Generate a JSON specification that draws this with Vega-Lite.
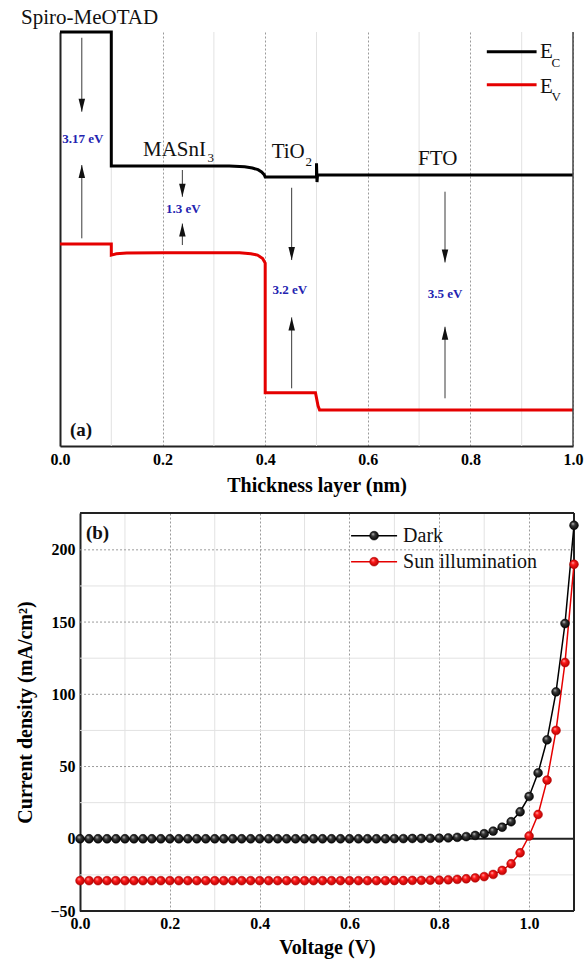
{
  "$schema": "https://vega.github.io/schema/vega-lite/v6.json",
  "background": "white",
  "padding": {"left": 15, "top": 7, "right": 5, "bottom": 5},
  "config": {
    "view": {"stroke": null},
    "font": "Liberation Serif",
    "axis": {
      "labelFont": "Liberation Serif", "labelFontWeight": "bold", "labelFontSize": 16, "labelColor": "#000",
      "titleFont": "Liberation Serif", "titleFontWeight": "bold", "titleFontSize": 20, "titleColor": "#000",
      "domainColor": "#222", "domainWidth": 2, "ticks": false,
      "gridColor": "#9a9a9a", "gridDash": [2, 2], "gridWidth": 1
    }
  },
  "spacing": 17,
  "vconcat": [
    {
      "width": 513,
      "height": 414,
      "layer": [
        {
          "data": {"values": [{"g": 0.1}, {"g": 0.3}, {"g": 0.5}, {"g": 0.7}, {"g": 0.9}]},
          "mark": {"type": "rule", "color": "#e2e2e2", "strokeWidth": 1},
          "encoding": {"x": {"field": "g", "type": "quantitative", "scale": {"domain": [0, 1], "nice": false, "zero": false},
            "axis": {"title": "Thickness layer (nm)", "values": [0, 0.2, 0.4, 0.6, 0.8, 1.0], "format": ".1f", "grid": true, "labelPadding": 5, "titlePadding": 8, "labelFlush": false}}}
        },
        {
          "data": {"name": "bands"},
          "transform": [{"filter": "datum.band === 'E_C'"}],
          "mark": {"type": "line", "strokeWidth": 3, "strokeJoin": "miter", "color": "#000000"},
          "encoding": {
            "x": {"field": "x", "type": "quantitative", "scale": {"domain": [0, 1], "nice": false, "zero": false},
              "axis": {"title": "Thickness layer (nm)", "values": [0, 0.2, 0.4, 0.6, 0.8, 1.0], "format": ".1f", "grid": true, "labelPadding": 5, "titlePadding": 8, "labelFlush": false}},
            "y": {"field": "E", "type": "quantitative", "scale": {"domain": [0, 6.18], "nice": false, "zero": false},
              "axis": {"title": null, "labels": false, "grid": false}},
            "order": {"field": "o", "type": "quantitative"}
          }
        },
        {
          "data": {"name": "bands"},
          "transform": [{"filter": "datum.band === 'E_V'"}],
          "mark": {"type": "line", "strokeWidth": 3, "strokeJoin": "miter", "color": "#e50000"},
          "encoding": {
            "x": {"field": "x", "type": "quantitative", "scale": {"domain": [0, 1], "nice": false, "zero": false},
              "axis": {"title": "Thickness layer (nm)", "values": [0, 0.2, 0.4, 0.6, 0.8, 1.0], "format": ".1f", "grid": true, "labelPadding": 5, "titlePadding": 8, "labelFlush": false}},
            "y": {"field": "E", "type": "quantitative", "scale": {"domain": [0, 6.18], "nice": false, "zero": false},
              "axis": {"title": null, "labels": false, "grid": false}},
            "order": {"field": "o", "type": "quantitative"}
          }
        },
        {
          "data": {"values": [{"b": 1}]},
          "mark": {"type": "rule", "color": "#444", "strokeWidth": 1.5},
          "encoding": {"x": {"field": "b", "type": "quantitative", "scale": {"domain": [0, 1], "nice": false, "zero": false},
            "axis": {"title": "Thickness layer (nm)", "values": [0, 0.2, 0.4, 0.6, 0.8, 1.0], "format": ".1f", "grid": true, "labelPadding": 5, "titlePadding": 8, "labelFlush": false}}}
        },
        {
          "data": {"values": [
            {"x": 0.0425, "E1": 6.094, "E2": 4.99, "dir": "down"},
            {"x": 0.0425, "E1": 3.1, "E2": 4.194, "dir": "up"},
            {"x": 0.2385, "E1": 4.12, "E2": 3.72, "dir": "down"},
            {"x": 0.2385, "E1": 3.0, "E2": 3.32, "dir": "up"},
            {"x": 0.4516, "E1": 3.855, "E2": 2.776, "dir": "down"},
            {"x": 0.4516, "E1": 0.861, "E2": 1.92, "dir": "up"},
            {"x": 0.7505, "E1": 3.796, "E2": 2.74, "dir": "down"},
            {"x": 0.7505, "E1": 0.712, "E2": 1.78, "dir": "up"}
          ]},
          "layer": [
            {
              "mark": {"type": "rule", "color": "#3a3a3a", "strokeWidth": 1},
              "encoding": {
                "x": {"field": "x", "type": "quantitative", "scale": {"domain": [0, 1], "nice": false, "zero": false},
                  "axis": {"title": "Thickness layer (nm)", "values": [0, 0.2, 0.4, 0.6, 0.8, 1.0], "format": ".1f", "grid": true, "labelPadding": 5, "titlePadding": 8, "labelFlush": false}},
                "y": {"field": "E1", "type": "quantitative", "scale": {"domain": [0, 6.18], "nice": false, "zero": false},
                  "axis": {"title": null, "labels": false, "grid": false}},
                "y2": {"field": "E2"}
              }
            },
            {
              "mark": {"type": "point", "filled": true, "size": 100, "color": "#111", "opacity": 1},
              "encoding": {
                "x": {"field": "x", "type": "quantitative", "scale": {"domain": [0, 1], "nice": false, "zero": false},
                  "axis": {"title": "Thickness layer (nm)", "values": [0, 0.2, 0.4, 0.6, 0.8, 1.0], "format": ".1f", "grid": true, "labelPadding": 5, "titlePadding": 8, "labelFlush": false}},
                "y": {"field": "E2", "type": "quantitative", "scale": {"domain": [0, 6.18], "nice": false, "zero": false},
                  "axis": {"title": null, "labels": false, "grid": false}},
                "shape": {"field": "dir", "type": "nominal", "scale": {"domain": ["down", "up"], "range": ["M-0.65,-2.6L0.65,-2.6L0,0Z", "M-0.65,2.6L0.65,2.6L0,0Z"]}, "legend": null}
              }
            }
          ]
        },
        {
          "data": {"values": [
            {"x": 0.0445, "E": 4.578, "t": "3.17 eV"},
            {"x": 0.2405, "E": 3.533, "t": "1.3 eV"},
            {"x": 0.448, "E": 2.328, "t": "3.2 eV"},
            {"x": 0.7505, "E": 2.264, "t": "3.5 eV"}
          ]},
          "mark": {"type": "text", "font": "Liberation Serif", "fontWeight": "bold", "fontSize": 13, "color": "#2323b0", "align": "center", "baseline": "middle"},
          "encoding": {
            "x": {"field": "x", "type": "quantitative", "scale": {"domain": [0, 1], "nice": false, "zero": false},
              "axis": {"title": "Thickness layer (nm)", "values": [0, 0.2, 0.4, 0.6, 0.8, 1.0], "format": ".1f", "grid": true, "labelPadding": 5, "titlePadding": 8, "labelFlush": false}},
            "y": {"field": "E", "type": "quantitative", "scale": {"domain": [0, 6.18], "nice": false, "zero": false},
              "axis": {"title": null, "labels": false, "grid": false}},
            "text": {"field": "t"}
          }
        },
        {
          "data": {"values": [
            {"x": -0.076, "E": 6.384, "t": "Spiro-MeOTAD"},
            {"x": 0.1618, "E": 4.42, "t": "MASnI"},
            {"x": 0.4126, "E": 4.39, "t": "TiO"},
            {"x": 0.698, "E": 4.29, "t": "FTO"},
            {"x": 0.9357, "E": 5.885, "t": "E"},
            {"x": 0.9357, "E": 5.363, "t": "E"}
          ]},
          "mark": {"type": "text", "font": "Liberation Serif", "fontSize": 21, "color": "#111", "align": "left", "baseline": "middle"},
          "encoding": {
            "x": {"field": "x", "type": "quantitative", "scale": {"domain": [0, 1], "nice": false, "zero": false},
              "axis": {"title": "Thickness layer (nm)", "values": [0, 0.2, 0.4, 0.6, 0.8, 1.0], "format": ".1f", "grid": true, "labelPadding": 5, "titlePadding": 8, "labelFlush": false}},
            "y": {"field": "E", "type": "quantitative", "scale": {"domain": [0, 6.18], "nice": false, "zero": false},
              "axis": {"title": null, "labels": false, "grid": false}},
            "text": {"field": "t"}
          }
        },
        {
          "data": {"values": [
            {"x": 0.2875, "E": 4.3, "t": "3"},
            {"x": 0.4785, "E": 4.24, "t": "2"},
            {"x": 0.958, "E": 5.716, "t": "C"},
            {"x": 0.958, "E": 5.209, "t": "V"}
          ]},
          "mark": {"type": "text", "font": "Liberation Serif", "fontSize": 13, "color": "#111", "align": "left", "baseline": "middle"},
          "encoding": {
            "x": {"field": "x", "type": "quantitative", "scale": {"domain": [0, 1], "nice": false, "zero": false},
              "axis": {"title": "Thickness layer (nm)", "values": [0, 0.2, 0.4, 0.6, 0.8, 1.0], "format": ".1f", "grid": true, "labelPadding": 5, "titlePadding": 8, "labelFlush": false}},
            "y": {"field": "E", "type": "quantitative", "scale": {"domain": [0, 6.18], "nice": false, "zero": false},
              "axis": {"title": null, "labels": false, "grid": false}},
            "text": {"field": "t"}
          }
        },
        {
          "data": {"values": [{"x": 0.832, "x2": 0.929, "E": 5.885}]},
          "mark": {"type": "rule", "strokeWidth": 3, "color": "#000000"},
          "encoding": {
            "x": {"field": "x", "type": "quantitative", "scale": {"domain": [0, 1], "nice": false, "zero": false},
              "axis": {"title": "Thickness layer (nm)", "values": [0, 0.2, 0.4, 0.6, 0.8, 1.0], "format": ".1f", "grid": true, "labelPadding": 5, "titlePadding": 8, "labelFlush": false}},
            "x2": {"field": "x2"},
            "y": {"field": "E", "type": "quantitative", "scale": {"domain": [0, 6.18], "nice": false, "zero": false},
              "axis": {"title": null, "labels": false, "grid": false}}
          }
        },
        {
          "data": {"values": [{"x": 0.832, "x2": 0.929, "E": 5.393}]},
          "mark": {"type": "rule", "strokeWidth": 3, "color": "#e50000"},
          "encoding": {
            "x": {"field": "x", "type": "quantitative", "scale": {"domain": [0, 1], "nice": false, "zero": false},
              "axis": {"title": "Thickness layer (nm)", "values": [0, 0.2, 0.4, 0.6, 0.8, 1.0], "format": ".1f", "grid": true, "labelPadding": 5, "titlePadding": 8, "labelFlush": false}},
            "x2": {"field": "x2"},
            "y": {"field": "E", "type": "quantitative", "scale": {"domain": [0, 6.18], "nice": false, "zero": false},
              "axis": {"title": null, "labels": false, "grid": false}}
          }
        },
        {
          "data": {"values": [{"x": 0.0195, "E": 0.24, "t": "(a)"}]},
          "mark": {"type": "text", "font": "Liberation Serif", "fontWeight": "bold", "fontSize": 19, "color": "#111", "align": "left", "baseline": "middle"},
          "encoding": {
            "x": {"field": "x", "type": "quantitative", "scale": {"domain": [0, 1], "nice": false, "zero": false},
              "axis": {"title": "Thickness layer (nm)", "values": [0, 0.2, 0.4, 0.6, 0.8, 1.0], "format": ".1f", "grid": true, "labelPadding": 5, "titlePadding": 8, "labelFlush": false}},
            "y": {"field": "E", "type": "quantitative", "scale": {"domain": [0, 6.18], "nice": false, "zero": false},
              "axis": {"title": null, "labels": false, "grid": false}},
            "text": {"field": "t"}
          }
        }
      ]
    },
    {
      "width": 514,
      "height": 398,
      "layer": [
        {
          "data": {"values": [{"g": 0.1}, {"g": 0.3}, {"g": 0.5}, {"g": 0.7}, {"g": 0.9}]},
          "mark": {"type": "rule", "color": "#e2e2e2", "strokeWidth": 1},
          "encoding": {"x": {"field": "g", "type": "quantitative", "scale": {"domain": [-0.04464, 1.1], "nice": false, "zero": false},
            "axis": {"title": "Voltage (V)", "titleX": 267, "values": [0, 0.2, 0.4, 0.6, 0.8, 1.0], "format": ".1f", "grid": true, "domain": false, "labelPadding": 4, "titlePadding": 6, "labelFlush": false}}}
        },
        {
          "data": {"values": [{"h": -25, "a": 0, "b": 1.1}, {"h": 25, "a": 0, "b": 1.1}, {"h": 75, "a": 0, "b": 1.1}, {"h": 125, "a": 0, "b": 1.1}, {"h": 175, "a": 0, "b": 1.1}]},
          "mark": {"type": "rule", "color": "#e2e2e2", "strokeWidth": 1},
          "encoding": {
            "x": {"field": "a", "type": "quantitative", "scale": {"domain": [-0.04464, 1.1], "nice": false, "zero": false},
              "axis": {"title": "Voltage (V)", "titleX": 267, "values": [0, 0.2, 0.4, 0.6, 0.8, 1.0], "format": ".1f", "grid": true, "domain": false, "labelPadding": 4, "titlePadding": 6, "labelFlush": false}},
            "x2": {"field": "b"},
            "y": {"field": "h", "type": "quantitative", "scale": {"domain": [-50, 225.5], "nice": false, "zero": false},
              "axis": {"title": "Current density (mA/cm²)", "offset": -20, "values": [-50, 0, 50, 100, 150, 200], "format": "d", "grid": false, "labelPadding": 5, "titlePadding": 14, "labelFlush": false}}
          }
        },
        {
          "data": {"values": [{"h": 50, "a": 0, "b": 1.1}, {"h": 100, "a": 0, "b": 1.1}, {"h": 150, "a": 0, "b": 1.1}, {"h": 200, "a": 0, "b": 1.1}]},
          "mark": {"type": "rule", "color": "#9a9a9a", "strokeWidth": 1, "strokeDash": [2, 2]},
          "encoding": {
            "x": {"field": "a", "type": "quantitative", "scale": {"domain": [-0.04464, 1.1], "nice": false, "zero": false},
              "axis": {"title": "Voltage (V)", "titleX": 267, "values": [0, 0.2, 0.4, 0.6, 0.8, 1.0], "format": ".1f", "grid": true, "domain": false, "labelPadding": 4, "titlePadding": 6, "labelFlush": false}},
            "x2": {"field": "b"},
            "y": {"field": "h", "type": "quantitative", "scale": {"domain": [-50, 225.5], "nice": false, "zero": false},
              "axis": {"title": "Current density (mA/cm²)", "offset": -20, "values": [-50, 0, 50, 100, 150, 200], "format": "d", "grid": false, "labelPadding": 5, "titlePadding": 14, "labelFlush": false}}
          }
        },
        {
          "data": {"values": [{"h": 0, "a": 0, "b": 1.1}, {"h": -50, "a": 0, "b": 1.1}, {"h": 225.5, "a": 0, "b": 1.1}]},
          "mark": {"type": "rule", "color": "#222", "strokeWidth": 1.8},
          "encoding": {
            "x": {"field": "a", "type": "quantitative", "scale": {"domain": [-0.04464, 1.1], "nice": false, "zero": false},
              "axis": {"title": "Voltage (V)", "titleX": 267, "values": [0, 0.2, 0.4, 0.6, 0.8, 1.0], "format": ".1f", "grid": true, "domain": false, "labelPadding": 4, "titlePadding": 6, "labelFlush": false}},
            "x2": {"field": "b"},
            "y": {"field": "h", "type": "quantitative", "scale": {"domain": [-50, 225.5], "nice": false, "zero": false},
              "axis": {"title": "Current density (mA/cm²)", "offset": -20, "values": [-50, 0, 50, 100, 150, 200], "format": "d", "grid": false, "labelPadding": 5, "titlePadding": 14, "labelFlush": false}}
          }
        },
        {
          "data": {"values": [{"b": 1.1}]},
          "mark": {"type": "rule", "color": "#222", "strokeWidth": 2},
          "encoding": {"x": {"field": "b", "type": "quantitative", "scale": {"domain": [-0.04464, 1.1], "nice": false, "zero": false},
            "axis": {"title": "Voltage (V)", "titleX": 267, "values": [0, 0.2, 0.4, 0.6, 0.8, 1.0], "format": ".1f", "grid": true, "domain": false, "labelPadding": 4, "titlePadding": 6, "labelFlush": false}}}
        },
        {
          "data": {"name": "jv"},
          "mark": {"type": "line", "strokeWidth": 1.5},
          "encoding": {
            "x": {"field": "V", "type": "quantitative", "scale": {"domain": [-0.04464, 1.1], "nice": false, "zero": false},
              "axis": {"title": "Voltage (V)", "titleX": 267, "values": [0, 0.2, 0.4, 0.6, 0.8, 1.0], "format": ".1f", "grid": true, "domain": false, "labelPadding": 4, "titlePadding": 6, "labelFlush": false}},
            "y": {"field": "J", "type": "quantitative", "scale": {"domain": [-50, 225.5], "nice": false, "zero": false},
              "axis": {"title": "Current density (mA/cm²)", "offset": -20, "values": [-50, 0, 50, 100, 150, 200], "format": "d", "grid": false, "labelPadding": 5, "titlePadding": 14, "labelFlush": false}},
            "color": {"field": "s", "type": "nominal", "scale": {"domain": ["Dark", "Sun illumination"], "range": ["#000000", "#e50000"]}, "legend": null}
          }
        },
        {
          "data": {"name": "leg"},
          "mark": {"type": "rule", "strokeWidth": 1.5},
          "encoding": {
            "x": {"field": "a", "type": "quantitative", "scale": {"domain": [-0.04464, 1.1], "nice": false, "zero": false},
              "axis": {"title": "Voltage (V)", "titleX": 267, "values": [0, 0.2, 0.4, 0.6, 0.8, 1.0], "format": ".1f", "grid": true, "domain": false, "labelPadding": 4, "titlePadding": 6, "labelFlush": false}},
            "x2": {"field": "b"},
            "y": {"field": "J", "type": "quantitative", "scale": {"domain": [-50, 225.5], "nice": false, "zero": false},
              "axis": {"title": "Current density (mA/cm²)", "offset": -20, "values": [-50, 0, 50, 100, 150, 200], "format": "d", "grid": false, "labelPadding": 5, "titlePadding": 14, "labelFlush": false}},
            "color": {"field": "s", "type": "nominal", "scale": {"domain": ["Dark", "Sun illumination"], "range": ["#000000", "#e50000"]}, "legend": null}
          }
        },
        {
          "data": {"name": "leg"},
          "mark": {"type": "text", "font": "Liberation Serif", "fontSize": 20, "color": "#111", "align": "left", "baseline": "middle"},
          "encoding": {
            "x": {"field": "tx", "type": "quantitative", "scale": {"domain": [-0.04464, 1.1], "nice": false, "zero": false},
              "axis": {"title": "Voltage (V)", "titleX": 267, "values": [0, 0.2, 0.4, 0.6, 0.8, 1.0], "format": ".1f", "grid": true, "domain": false, "labelPadding": 4, "titlePadding": 6, "labelFlush": false}},
            "y": {"field": "J", "type": "quantitative", "scale": {"domain": [-50, 225.5], "nice": false, "zero": false},
              "axis": {"title": "Current density (mA/cm²)", "offset": -20, "values": [-50, 0, 50, 100, 150, 200], "format": "d", "grid": false, "labelPadding": 5, "titlePadding": 14, "labelFlush": false}},
            "text": {"field": "s"}
          }
        },
        {
          "data": {"name": "jvleg"},
          "transform": [{"filter": "datum.s === 'Sun illumination'"}],
          "mark": {"type": "point", "filled": true, "size": 78, "opacity": 1, "stroke": "#b00000", "strokeWidth": 0.5,
            "fill": {"gradient": "radial", "x1": 0.35, "y1": 0.3, "r1": 0, "x2": 0.5, "y2": 0.5, "r2": 0.55,
              "stops": [{"offset": 0, "color": "#ffc0c0"}, {"offset": 0.35, "color": "#ff1a1a"}, {"offset": 1, "color": "#b00000"}]}},
          "encoding": {
            "x": {"field": "V", "type": "quantitative", "scale": {"domain": [-0.04464, 1.1], "nice": false, "zero": false},
              "axis": {"title": "Voltage (V)", "titleX": 267, "values": [0, 0.2, 0.4, 0.6, 0.8, 1.0], "format": ".1f", "grid": true, "domain": false, "labelPadding": 4, "titlePadding": 6, "labelFlush": false}},
            "y": {"field": "J", "type": "quantitative", "scale": {"domain": [-50, 225.5], "nice": false, "zero": false},
              "axis": {"title": "Current density (mA/cm²)", "offset": -20, "values": [-50, 0, 50, 100, 150, 200], "format": "d", "grid": false, "labelPadding": 5, "titlePadding": 14, "labelFlush": false}}
          }
        },
        {
          "data": {"name": "jvleg"},
          "transform": [{"filter": "datum.s === 'Dark'"}],
          "mark": {"type": "point", "filled": true, "size": 78, "opacity": 1, "stroke": "#000", "strokeWidth": 0.5,
            "fill": {"gradient": "radial", "x1": 0.35, "y1": 0.3, "r1": 0, "x2": 0.5, "y2": 0.5, "r2": 0.55,
              "stops": [{"offset": 0, "color": "#d8d8d8"}, {"offset": 0.35, "color": "#3a3a3a"}, {"offset": 1, "color": "#000000"}]}},
          "encoding": {
            "x": {"field": "V", "type": "quantitative", "scale": {"domain": [-0.04464, 1.1], "nice": false, "zero": false},
              "axis": {"title": "Voltage (V)", "titleX": 267, "values": [0, 0.2, 0.4, 0.6, 0.8, 1.0], "format": ".1f", "grid": true, "domain": false, "labelPadding": 4, "titlePadding": 6, "labelFlush": false}},
            "y": {"field": "J", "type": "quantitative", "scale": {"domain": [-50, 225.5], "nice": false, "zero": false},
              "axis": {"title": "Current density (mA/cm²)", "offset": -20, "values": [-50, 0, 50, 100, 150, 200], "format": "d", "grid": false, "labelPadding": 5, "titlePadding": 14, "labelFlush": false}}
          }
        },
        {
          "data": {"values": [{"V": 0.013, "J": 211.6, "t": "(b)"}]},
          "mark": {"type": "text", "font": "Liberation Serif", "fontWeight": "bold", "fontSize": 19, "color": "#111", "align": "left", "baseline": "middle"},
          "encoding": {
            "x": {"field": "V", "type": "quantitative", "scale": {"domain": [-0.04464, 1.1], "nice": false, "zero": false},
              "axis": {"title": "Voltage (V)", "titleX": 267, "values": [0, 0.2, 0.4, 0.6, 0.8, 1.0], "format": ".1f", "grid": true, "domain": false, "labelPadding": 4, "titlePadding": 6, "labelFlush": false}},
            "y": {"field": "J", "type": "quantitative", "scale": {"domain": [-50, 225.5], "nice": false, "zero": false},
              "axis": {"title": "Current density (mA/cm²)", "offset": -20, "values": [-50, 0, 50, 100, 150, 200], "format": "d", "grid": false, "labelPadding": 5, "titlePadding": 14, "labelFlush": false}},
            "text": {"field": "t"}
          }
        }
      ]
    }
  ],
  "datasets": {
    "leg": [
      {"a": 0.6036, "b": 0.706, "tx": 0.7194, "J": 209.8, "s": "Dark"},
      {"a": 0.6036, "b": 0.706, "tx": 0.7194, "J": 191.8, "s": "Sun illumination"}
    ],
    "bands": [
      {"x": 0, "E": 6.18, "band": "E_C", "o": 1},
      {"x": 0.1, "E": 6.18, "band": "E_C", "o": 2},
      {"x": 0.1, "E": 4.18, "band": "E_C", "o": 3},
      {"x": 0.33, "E": 4.18, "band": "E_C", "o": 4},
      {"x": 0.36, "E": 4.17, "band": "E_C", "o": 5},
      {"x": 0.375, "E": 4.15, "band": "E_C", "o": 6},
      {"x": 0.386, "E": 4.125, "band": "E_C", "o": 7},
      {"x": 0.393, "E": 4.09, "band": "E_C", "o": 8},
      {"x": 0.398, "E": 4.05, "band": "E_C", "o": 9},
      {"x": 0.4, "E": 4.015, "band": "E_C", "o": 10},
      {"x": 0.5, "E": 4.015, "band": "E_C", "o": 11},
      {"x": 0.5, "E": 4.22, "band": "E_C", "o": 12},
      {"x": 0.501, "E": 3.94, "band": "E_C", "o": 13},
      {"x": 0.502, "E": 4.045, "band": "E_C", "o": 14},
      {"x": 1.0, "E": 4.045, "band": "E_C", "o": 15},
      {"x": 0, "E": 3.015, "band": "E_V", "o": 1},
      {"x": 0.1, "E": 3.015, "band": "E_V", "o": 2},
      {"x": 0.1, "E": 2.85, "band": "E_V", "o": 3},
      {"x": 0.11, "E": 2.87, "band": "E_V", "o": 4},
      {"x": 0.13, "E": 2.88, "band": "E_V", "o": 5},
      {"x": 0.2, "E": 2.885, "band": "E_V", "o": 6},
      {"x": 0.35, "E": 2.885, "band": "E_V", "o": 7},
      {"x": 0.372, "E": 2.87, "band": "E_V", "o": 8},
      {"x": 0.385, "E": 2.85, "band": "E_V", "o": 9},
      {"x": 0.395, "E": 2.8, "band": "E_V", "o": 10},
      {"x": 0.4, "E": 2.73, "band": "E_V", "o": 11},
      {"x": 0.4, "E": 0.796, "band": "E_V", "o": 12},
      {"x": 0.498, "E": 0.796, "band": "E_V", "o": 13},
      {"x": 0.503, "E": 0.6, "band": "E_V", "o": 14},
      {"x": 0.506, "E": 0.537, "band": "E_V", "o": 15},
      {"x": 1.0, "E": 0.537, "band": "E_V", "o": 16}
    ],
    "jvleg": [
      {"V": 0.00, "J": 0, "s": "Dark"}, {"V": 0.02, "J": 0, "s": "Dark"}, {"V": 0.04, "J": 0, "s": "Dark"}, {"V": 0.06, "J": 0, "s": "Dark"},
      {"V": 0.08, "J": 0, "s": "Dark"}, {"V": 0.10, "J": 0, "s": "Dark"}, {"V": 0.12, "J": 0, "s": "Dark"}, {"V": 0.14, "J": 0, "s": "Dark"},
      {"V": 0.16, "J": 0, "s": "Dark"}, {"V": 0.18, "J": 0, "s": "Dark"}, {"V": 0.20, "J": 0, "s": "Dark"}, {"V": 0.22, "J": 0, "s": "Dark"},
      {"V": 0.24, "J": 0, "s": "Dark"}, {"V": 0.26, "J": 0, "s": "Dark"}, {"V": 0.28, "J": 0, "s": "Dark"}, {"V": 0.30, "J": 0, "s": "Dark"},
      {"V": 0.32, "J": 0, "s": "Dark"}, {"V": 0.34, "J": 0, "s": "Dark"}, {"V": 0.36, "J": 0, "s": "Dark"}, {"V": 0.38, "J": 0, "s": "Dark"},
      {"V": 0.40, "J": 0, "s": "Dark"}, {"V": 0.42, "J": 0, "s": "Dark"}, {"V": 0.44, "J": 0, "s": "Dark"}, {"V": 0.46, "J": 0, "s": "Dark"},
      {"V": 0.48, "J": 0, "s": "Dark"}, {"V": 0.50, "J": 0, "s": "Dark"}, {"V": 0.52, "J": 0, "s": "Dark"}, {"V": 0.54, "J": 0, "s": "Dark"},
      {"V": 0.56, "J": 0, "s": "Dark"}, {"V": 0.58, "J": 0, "s": "Dark"}, {"V": 0.60, "J": 0, "s": "Dark"}, {"V": 0.62, "J": 0, "s": "Dark"},
      {"V": 0.64, "J": 0, "s": "Dark"}, {"V": 0.66, "J": 0, "s": "Dark"}, {"V": 0.68, "J": 0, "s": "Dark"}, {"V": 0.70, "J": 0.1, "s": "Dark"},
      {"V": 0.72, "J": 0.1, "s": "Dark"}, {"V": 0.74, "J": 0.2, "s": "Dark"}, {"V": 0.76, "J": 0.2, "s": "Dark"}, {"V": 0.78, "J": 0.3, "s": "Dark"},
      {"V": 0.80, "J": 0.4, "s": "Dark"}, {"V": 0.82, "J": 0.6, "s": "Dark"}, {"V": 0.84, "J": 1.0, "s": "Dark"}, {"V": 0.86, "J": 1.5, "s": "Dark"},
      {"V": 0.88, "J": 2.3, "s": "Dark"}, {"V": 0.90, "J": 3.5, "s": "Dark"}, {"V": 0.92, "J": 5.3, "s": "Dark"}, {"V": 0.94, "J": 8.0, "s": "Dark"},
      {"V": 0.96, "J": 11.8, "s": "Dark"}, {"V": 0.98, "J": 18.7, "s": "Dark"}, {"V": 1.00, "J": 29.3, "s": "Dark"}, {"V": 1.02, "J": 45.6, "s": "Dark"},
      {"V": 1.04, "J": 68.5, "s": "Dark"}, {"V": 1.06, "J": 101.7, "s": "Dark"}, {"V": 1.08, "J": 149, "s": "Dark"}, {"V": 1.10, "J": 217, "s": "Dark"},
      {"V": 0.6548, "J": 209.8, "s": "Dark"},
      {"V": 0.00, "J": -29, "s": "Sun illumination"}, {"V": 0.02, "J": -29, "s": "Sun illumination"}, {"V": 0.04, "J": -29, "s": "Sun illumination"}, {"V": 0.06, "J": -29, "s": "Sun illumination"},
      {"V": 0.08, "J": -29, "s": "Sun illumination"}, {"V": 0.10, "J": -29, "s": "Sun illumination"}, {"V": 0.12, "J": -29, "s": "Sun illumination"}, {"V": 0.14, "J": -29, "s": "Sun illumination"},
      {"V": 0.16, "J": -29, "s": "Sun illumination"}, {"V": 0.18, "J": -29, "s": "Sun illumination"}, {"V": 0.20, "J": -29, "s": "Sun illumination"}, {"V": 0.22, "J": -29, "s": "Sun illumination"},
      {"V": 0.24, "J": -29, "s": "Sun illumination"}, {"V": 0.26, "J": -29, "s": "Sun illumination"}, {"V": 0.28, "J": -29, "s": "Sun illumination"}, {"V": 0.30, "J": -29, "s": "Sun illumination"},
      {"V": 0.32, "J": -29, "s": "Sun illumination"}, {"V": 0.34, "J": -29, "s": "Sun illumination"}, {"V": 0.36, "J": -29, "s": "Sun illumination"}, {"V": 0.38, "J": -29, "s": "Sun illumination"},
      {"V": 0.40, "J": -29, "s": "Sun illumination"}, {"V": 0.42, "J": -29, "s": "Sun illumination"}, {"V": 0.44, "J": -29, "s": "Sun illumination"}, {"V": 0.46, "J": -29, "s": "Sun illumination"},
      {"V": 0.48, "J": -29, "s": "Sun illumination"}, {"V": 0.50, "J": -29, "s": "Sun illumination"}, {"V": 0.52, "J": -29, "s": "Sun illumination"}, {"V": 0.54, "J": -29, "s": "Sun illumination"},
      {"V": 0.56, "J": -29, "s": "Sun illumination"}, {"V": 0.58, "J": -29, "s": "Sun illumination"}, {"V": 0.60, "J": -29, "s": "Sun illumination"}, {"V": 0.62, "J": -29, "s": "Sun illumination"},
      {"V": 0.64, "J": -29, "s": "Sun illumination"}, {"V": 0.66, "J": -29, "s": "Sun illumination"}, {"V": 0.68, "J": -29, "s": "Sun illumination"}, {"V": 0.70, "J": -28.9, "s": "Sun illumination"},
      {"V": 0.72, "J": -28.9, "s": "Sun illumination"}, {"V": 0.74, "J": -28.8, "s": "Sun illumination"}, {"V": 0.76, "J": -28.8, "s": "Sun illumination"}, {"V": 0.78, "J": -28.7, "s": "Sun illumination"},
      {"V": 0.80, "J": -28.6, "s": "Sun illumination"}, {"V": 0.82, "J": -28.4, "s": "Sun illumination"}, {"V": 0.84, "J": -28.1, "s": "Sun illumination"}, {"V": 0.86, "J": -27.7, "s": "Sun illumination"},
      {"V": 0.88, "J": -27.1, "s": "Sun illumination"}, {"V": 0.90, "J": -26.2, "s": "Sun illumination"}, {"V": 0.92, "J": -24.7, "s": "Sun illumination"}, {"V": 0.94, "J": -21.9, "s": "Sun illumination"},
      {"V": 0.96, "J": -17.3, "s": "Sun illumination"}, {"V": 0.98, "J": -9.7, "s": "Sun illumination"}, {"V": 1.00, "J": 1.9, "s": "Sun illumination"}, {"V": 1.02, "J": 16.8, "s": "Sun illumination"},
      {"V": 1.04, "J": 40.6, "s": "Sun illumination"}, {"V": 1.06, "J": 75, "s": "Sun illumination"}, {"V": 1.08, "J": 122, "s": "Sun illumination"}, {"V": 1.10, "J": 190, "s": "Sun illumination"},
      {"V": 0.6548, "J": 191.8, "s": "Sun illumination"}
    ],
    "jv": [
      {"V": 0.00, "J": 0, "s": "Dark"}, {"V": 0.02, "J": 0, "s": "Dark"}, {"V": 0.04, "J": 0, "s": "Dark"}, {"V": 0.06, "J": 0, "s": "Dark"},
      {"V": 0.08, "J": 0, "s": "Dark"}, {"V": 0.10, "J": 0, "s": "Dark"}, {"V": 0.12, "J": 0, "s": "Dark"}, {"V": 0.14, "J": 0, "s": "Dark"},
      {"V": 0.16, "J": 0, "s": "Dark"}, {"V": 0.18, "J": 0, "s": "Dark"}, {"V": 0.20, "J": 0, "s": "Dark"}, {"V": 0.22, "J": 0, "s": "Dark"},
      {"V": 0.24, "J": 0, "s": "Dark"}, {"V": 0.26, "J": 0, "s": "Dark"}, {"V": 0.28, "J": 0, "s": "Dark"}, {"V": 0.30, "J": 0, "s": "Dark"},
      {"V": 0.32, "J": 0, "s": "Dark"}, {"V": 0.34, "J": 0, "s": "Dark"}, {"V": 0.36, "J": 0, "s": "Dark"}, {"V": 0.38, "J": 0, "s": "Dark"},
      {"V": 0.40, "J": 0, "s": "Dark"}, {"V": 0.42, "J": 0, "s": "Dark"}, {"V": 0.44, "J": 0, "s": "Dark"}, {"V": 0.46, "J": 0, "s": "Dark"},
      {"V": 0.48, "J": 0, "s": "Dark"}, {"V": 0.50, "J": 0, "s": "Dark"}, {"V": 0.52, "J": 0, "s": "Dark"}, {"V": 0.54, "J": 0, "s": "Dark"},
      {"V": 0.56, "J": 0, "s": "Dark"}, {"V": 0.58, "J": 0, "s": "Dark"}, {"V": 0.60, "J": 0, "s": "Dark"}, {"V": 0.62, "J": 0, "s": "Dark"},
      {"V": 0.64, "J": 0, "s": "Dark"}, {"V": 0.66, "J": 0, "s": "Dark"}, {"V": 0.68, "J": 0, "s": "Dark"}, {"V": 0.70, "J": 0.1, "s": "Dark"},
      {"V": 0.72, "J": 0.1, "s": "Dark"}, {"V": 0.74, "J": 0.2, "s": "Dark"}, {"V": 0.76, "J": 0.2, "s": "Dark"}, {"V": 0.78, "J": 0.3, "s": "Dark"},
      {"V": 0.80, "J": 0.4, "s": "Dark"}, {"V": 0.82, "J": 0.6, "s": "Dark"}, {"V": 0.84, "J": 1.0, "s": "Dark"}, {"V": 0.86, "J": 1.5, "s": "Dark"},
      {"V": 0.88, "J": 2.3, "s": "Dark"}, {"V": 0.90, "J": 3.5, "s": "Dark"}, {"V": 0.92, "J": 5.3, "s": "Dark"}, {"V": 0.94, "J": 8.0, "s": "Dark"},
      {"V": 0.96, "J": 11.8, "s": "Dark"}, {"V": 0.98, "J": 18.7, "s": "Dark"}, {"V": 1.00, "J": 29.3, "s": "Dark"}, {"V": 1.02, "J": 45.6, "s": "Dark"},
      {"V": 1.04, "J": 68.5, "s": "Dark"}, {"V": 1.06, "J": 101.7, "s": "Dark"}, {"V": 1.08, "J": 149, "s": "Dark"}, {"V": 1.10, "J": 217, "s": "Dark"},
      {"V": 0.00, "J": -29, "s": "Sun illumination"}, {"V": 0.02, "J": -29, "s": "Sun illumination"}, {"V": 0.04, "J": -29, "s": "Sun illumination"}, {"V": 0.06, "J": -29, "s": "Sun illumination"},
      {"V": 0.08, "J": -29, "s": "Sun illumination"}, {"V": 0.10, "J": -29, "s": "Sun illumination"}, {"V": 0.12, "J": -29, "s": "Sun illumination"}, {"V": 0.14, "J": -29, "s": "Sun illumination"},
      {"V": 0.16, "J": -29, "s": "Sun illumination"}, {"V": 0.18, "J": -29, "s": "Sun illumination"}, {"V": 0.20, "J": -29, "s": "Sun illumination"}, {"V": 0.22, "J": -29, "s": "Sun illumination"},
      {"V": 0.24, "J": -29, "s": "Sun illumination"}, {"V": 0.26, "J": -29, "s": "Sun illumination"}, {"V": 0.28, "J": -29, "s": "Sun illumination"}, {"V": 0.30, "J": -29, "s": "Sun illumination"},
      {"V": 0.32, "J": -29, "s": "Sun illumination"}, {"V": 0.34, "J": -29, "s": "Sun illumination"}, {"V": 0.36, "J": -29, "s": "Sun illumination"}, {"V": 0.38, "J": -29, "s": "Sun illumination"},
      {"V": 0.40, "J": -29, "s": "Sun illumination"}, {"V": 0.42, "J": -29, "s": "Sun illumination"}, {"V": 0.44, "J": -29, "s": "Sun illumination"}, {"V": 0.46, "J": -29, "s": "Sun illumination"},
      {"V": 0.48, "J": -29, "s": "Sun illumination"}, {"V": 0.50, "J": -29, "s": "Sun illumination"}, {"V": 0.52, "J": -29, "s": "Sun illumination"}, {"V": 0.54, "J": -29, "s": "Sun illumination"},
      {"V": 0.56, "J": -29, "s": "Sun illumination"}, {"V": 0.58, "J": -29, "s": "Sun illumination"}, {"V": 0.60, "J": -29, "s": "Sun illumination"}, {"V": 0.62, "J": -29, "s": "Sun illumination"},
      {"V": 0.64, "J": -29, "s": "Sun illumination"}, {"V": 0.66, "J": -29, "s": "Sun illumination"}, {"V": 0.68, "J": -29, "s": "Sun illumination"}, {"V": 0.70, "J": -28.9, "s": "Sun illumination"},
      {"V": 0.72, "J": -28.9, "s": "Sun illumination"}, {"V": 0.74, "J": -28.8, "s": "Sun illumination"}, {"V": 0.76, "J": -28.8, "s": "Sun illumination"}, {"V": 0.78, "J": -28.7, "s": "Sun illumination"},
      {"V": 0.80, "J": -28.6, "s": "Sun illumination"}, {"V": 0.82, "J": -28.4, "s": "Sun illumination"}, {"V": 0.84, "J": -28.1, "s": "Sun illumination"}, {"V": 0.86, "J": -27.7, "s": "Sun illumination"},
      {"V": 0.88, "J": -27.1, "s": "Sun illumination"}, {"V": 0.90, "J": -26.2, "s": "Sun illumination"}, {"V": 0.92, "J": -24.7, "s": "Sun illumination"}, {"V": 0.94, "J": -21.9, "s": "Sun illumination"},
      {"V": 0.96, "J": -17.3, "s": "Sun illumination"}, {"V": 0.98, "J": -9.7, "s": "Sun illumination"}, {"V": 1.00, "J": 1.9, "s": "Sun illumination"}, {"V": 1.02, "J": 16.8, "s": "Sun illumination"},
      {"V": 1.04, "J": 40.6, "s": "Sun illumination"}, {"V": 1.06, "J": 75, "s": "Sun illumination"}, {"V": 1.08, "J": 122, "s": "Sun illumination"}, {"V": 1.10, "J": 190, "s": "Sun illumination"}
    ]
  }
}
